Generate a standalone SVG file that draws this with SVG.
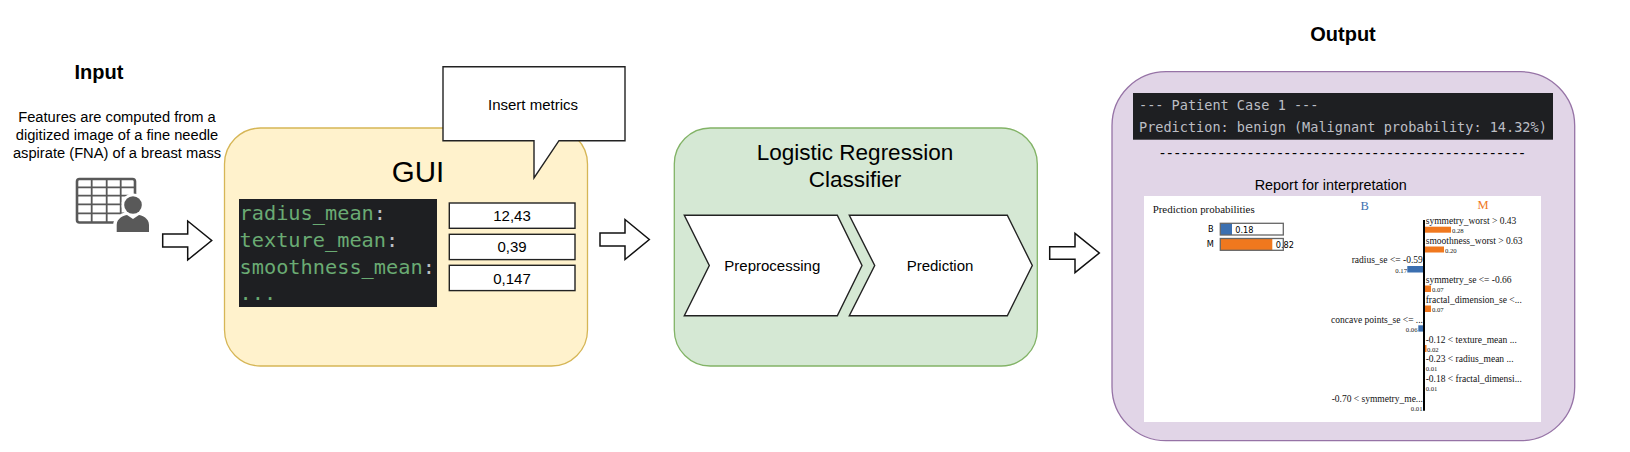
<svg xmlns="http://www.w3.org/2000/svg" width="1630" height="452" viewBox="0 0 1630 452">
<style>
text{font-family:"Liberation Sans",Arial,sans-serif;fill:#000}
.c{text-anchor:middle}
.e{text-anchor:end}
.h{font-size:20px;font-weight:bold}
.t{font-size:15px}
.f{font-size:14.700px}
.box{stroke-width:1.3}
.w{fill:#fff;stroke:#222;stroke-width:1.4}
.arrow{fill:#fff;stroke:#111;stroke-width:1.5}
.code{font-family:"DejaVu Sans Mono",monospace;font-size:20.300px;fill:#6aab73}
.code tspan{fill:#bcbec4}
.term{font-family:"DejaVu Sans Mono",monospace;font-size:13.55px;fill:#bcbec4}
.l{font-family:"Liberation Serif","Times New Roman",serif;font-size:9.500px;fill:#111}
.v{font-family:"Liberation Serif","Times New Roman",serif;font-size:6.700px;fill:#222}
.s{font-family:"DejaVu Sans",sans-serif;font-size:8.200px}
.o{fill:#f0781e}
.b{fill:#3b6fb0}
</style>
<g id="input-title"><text class="h c" x="99" y="79">Input</text></g>
<g id="input-description">
<text class="f c" x="117" y="122">Features are computed from a</text>
<text class="f c" x="117" y="140">digitized image of a fine needle</text>
<text class="f c" x="117" y="158">aspirate (FNA) of a breast mass</text>
</g>
<g id="input-icon">
<rect x="77" y="179" width="58" height="43.500" rx="2.500" fill="none" stroke="#595959" stroke-width="2.600"/>
<path d="M91.700 179V222M106.700 179V222M120.700 179V222M77 187.300H135M77 195.700H135M77 204.300H135M77 213.300H135" fill="none" stroke="#595959" stroke-width="1.800"/>
<path d="M113 236V226C113 216 122 211.500 133 211.500S153 216 153 226V236Z" fill="#fff"/>
<circle cx="133" cy="205" r="11.500" fill="#fff"/>
<circle cx="133" cy="205" r="8.800" fill="#595959"/>
<path d="M116.700 232V225C116.700 218 124 215.500 127 215L133 219L139 215C142 215.500 149 218 149 225V232Z" fill="#595959"/>
</g>
<g id="connectors">
<path class="arrow" d="M162.700 234H187.700V221L211.700 240.500L187.700 260V247H162.700Z"/>
<path class="arrow" d="M600 233H625V219.500L649.300 239.500L625 259.500V246H600Z"/>
<path class="arrow" d="M1049.700 246.700H1075V233.300L1099.300 253L1075 272.700V259.300H1049.700Z"/>
</g>
<g id="gui">
<rect class="box" x="224.500" y="128" width="363" height="238" rx="36" fill="#fff2cc" stroke="#d6b656"/>
<text class="c" x="418" y="181.500" font-size="29.500">GUI</text>
<rect x="239" y="199" width="198" height="108" fill="#1e1f22"/>
<text class="code" x="239.500" y="220">radius_mean<tspan>:</tspan></text>
<text class="code" x="239.500" y="247">texture_mean<tspan>:</tspan></text>
<text class="code" x="239.500" y="273.500">smoothness_mean<tspan>:</tspan></text>
<text class="code" x="239.500" y="300">...</text>
</g>
<g id="field-radius"><rect class="w" x="449.300" y="203" width="125.700" height="25.300"/><text class="t c" x="512" y="221">12,43</text></g>
<g id="field-texture"><rect class="w" x="449.300" y="234.300" width="125.700" height="25.300"/><text class="t c" x="512" y="252">0,39</text></g>
<g id="field-smoothness"><rect class="w" x="449.300" y="265.300" width="125.700" height="25.300"/><text class="t c" x="512" y="283.500">0,147</text></g>
<g id="callout">
<path class="w" d="M443 66.700H625V140.700H559L534 178V140.700H443Z"/>
<text class="t c" x="533" y="110">Insert metrics</text>
</g>
<g id="classifier">
<rect class="box" x="674.300" y="128" width="363" height="238" rx="36" fill="#d5e8d4" stroke="#82b366"/>
<text class="c" x="855" y="160" font-size="22.500">Logistic Regression</text>
<text class="c" x="855" y="187" font-size="22.500">Classifier</text>
</g>
<g id="preprocessing">
<path class="w" d="M684.300 215.300H837.300L862 265.500L837.300 315.700H684.300L709.300 265.500Z"/>
<text class="t c" x="772.300" y="271">Preprocessing</text>
</g>
<g id="prediction">
<path class="w" d="M849.300 215.300H1007.300L1032.300 265.500L1007.300 315.700H849.300L874.700 265.500Z"/>
<text class="t c" x="940" y="271">Prediction</text>
</g>
<g id="output-title"><text class="h c" x="1343" y="40.700">Output</text></g>
<g id="output">
<rect class="box" x="1112" y="71.700" width="462.700" height="369" rx="54" fill="#e1d5e7" stroke="#9673a6"/>
<rect x="1133" y="93" width="420" height="46.700" fill="#1e1f22"/>
<text class="term" x="1139" y="109.500">--- Patient Case 1 ---</text>
<text class="term" x="1139" y="131.500">Prediction: benign (Malignant probability: 14.32%)</text>
<text x="1160" y="158" font-size="15" textLength="364.500" lengthAdjust="spacing">--------------------------------------------------</text>
<text class="c" x="1330.700" y="190" font-size="14.400">Report for interpretation</text>
</g>
<g id="lime-report">
<rect x="1144" y="196" width="397" height="226" fill="#fff"/>
<text class="l" x="1152.700" y="213" style="font-size:10.900px">Prediction probabilities</text>
<text class="s c" x="1210.700" y="232.300">B</text>
<text class="s c" x="1210.300" y="247">M</text>
<rect class="b" x="1220.300" y="223.300" width="11.700" height="11.700"/>
<rect x="1220.300" y="223.300" width="63" height="11.700" fill="none" stroke="#666" stroke-width="1.300"/>
<rect class="o" x="1220.300" y="238.500" width="52" height="11.800"/>
<rect x="1220.300" y="238.500" width="63" height="11.800" fill="none" stroke="#666" stroke-width="1.300"/>
<text class="s" x="1235.300" y="232.700">0.18</text>
<text class="s" x="1275.700" y="247.700">0.82</text>
<text class="c b" x="1364.700" y="210" style="font-family:'Liberation Serif',serif;font-size:12.500px">B</text>
<text class="c o" x="1483" y="209" style="font-family:'Liberation Serif',serif;font-size:12.500px">M</text>
<rect class="o" x="1425" y="226.700" width="26" height="6"/>
<rect class="o" x="1425" y="246.500" width="19" height="6"/>
<rect class="b" x="1407.300" y="266" width="15.700" height="6.500"/>
<rect class="o" x="1425" y="285.500" width="6" height="6.500"/>
<rect class="o" x="1425" y="305.500" width="6" height="6.500"/>
<rect class="b" x="1418.300" y="325.300" width="4.700" height="6.300"/>
<rect class="o" x="1425" y="345" width="1.500" height="7"/>
<path d="M1424 220V410.700" stroke="#000" stroke-width="2" fill="none"/>
<text class="l" x="1425.700" y="224.300">symmetry_worst &gt; 0.43</text>
<text class="v" x="1452" y="232.500">0.28</text>
<text class="l" x="1425.700" y="243.700">smoothness_worst &gt; 0.63</text>
<text class="v" x="1445" y="252.500">0.20</text>
<text class="l e" x="1422.800" y="263.300">radius_se &lt;= -0.59</text>
<text class="v e" x="1407" y="272.500">0.17</text>
<text class="l" x="1425.700" y="283.300">symmetry_se &lt;= -0.66</text>
<text class="v" x="1432" y="291.800">0.07</text>
<text class="l" x="1425.700" y="303">fractal_dimension_se &lt;...</text>
<text class="v" x="1432" y="311.700">0.07</text>
<text class="l e" x="1423" y="322.700">concave points_se &lt;= ...</text>
<text class="v e" x="1417.500" y="331.500">0.06</text>
<text class="l" x="1425.700" y="342.700">-0.12 &lt; texture_mean ...</text>
<text class="v" x="1427" y="351.500">0.02</text>
<text class="l" x="1425.700" y="362.300">-0.23 &lt; radius_mean ...</text>
<text class="v" x="1425.700" y="370.700">0.01</text>
<text class="l" x="1425.700" y="382">-0.18 &lt; fractal_dimensi...</text>
<text class="v" x="1425.700" y="390.700">0.01</text>
<text class="l e" x="1423" y="401.700">-0.70 &lt; symmetry_me...</text>
<text class="v e" x="1422.500" y="410.500">0.01</text>
</g>
</svg>
